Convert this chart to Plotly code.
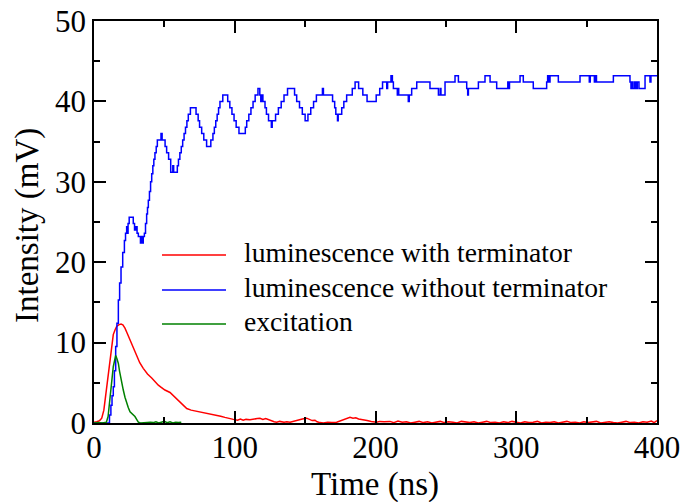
import plotly.graph_objects as go

# ---------------- data ----------------
red_t = [0, 2, 4, 5.5, 7, 9, 10.5, 11.5, 12.5, 13.7, 15, 16.1, 17.5, 19.2, 20.5, 22, 23.5, 25.6,
         28, 30.3, 32.5, 35, 38, 41, 44, 45.7, 48, 50.4, 54, 57, 60, 63, 65.9, 69, 72, 75.3, 78,
         81, 84, 87.2, 90, 93, 96, 99, 102, 104, 106, 108, 110.8, 113, 116, 117.9, 120, 122, 123.8,
         126, 128, 129.8, 132, 135, 137, 139.3, 142, 144, 146, 148, 151.1, 153, 155, 157, 158.5,
         160.6, 163, 166, 169, 172.4, 175, 177, 179, 181.9, 184, 186, 188, 191.3, 194, 197, 200.8,
         203, 206, 210.3, 213, 216, 219, 222, 225, 228, 231, 234, 237, 240, 243, 246, 249, 252,
         255, 258, 261, 264, 267, 270, 273, 276, 279, 282, 285, 288, 291, 294, 297, 300, 303, 306,
         309, 312, 315, 318, 321, 324, 327, 330, 333, 336, 339, 342, 345, 348, 351, 354, 357, 360,
         363, 366, 369, 372, 375, 378, 381, 384, 387, 390, 393, 396, 398, 400]
red_v = [0.1, 0.15, 0.3, 0.6, 1.6, 4.5, 6.8, 8.4, 9.6, 11.0, 11.6, 12.0, 12.2, 12.3, 12.2, 11.8, 11.2, 10.3,
         9.2, 8.2, 7.5, 6.8, 6.1, 5.6, 5.0, 4.7, 4.4, 4.1, 3.8, 3.3, 2.8, 2.3, 1.8, 1.6, 1.5, 1.4, 1.3,
         1.2, 1.05, 1.0, 0.85, 0.7, 0.55, 0.45, 0.35, 0.5, 0.35, 0.45, 0.4, 0.5, 0.55, 0.6, 0.45, 0.55, 0.4,
         0.3, 0.15, 0.1, 0.2, 0.1, 0.15, 0.1, 0.25, 0.3, 0.45, 0.5, 0.6, 0.45, 0.3, 0.35, 0.15,
         0.05, 0.0, 0.1, 0.05, 0.1, 0.25, 0.45, 0.55, 0.7, 0.6, 0.65, 0.5, 0.35, 0.3, 0.2, 0.1,
         0.2, 0.15, 0.2, 0.05, 0.25, 0.1, 0.15, 0.0, 0.1, 0.2, 0.05, 0.15, 0.0, 0.1, 0.2, 0.05, 0.15,
         0.1, 0.0, 0.2, 0.1, 0.05, 0.15, 0.0, 0.1, 0.2, 0.05, 0.1, 0.0, 0.15, 0.05, 0.2, 0.1, 0.0, 0.15,
         0.05, 0.1, 0.2, 0.0, 0.1, 0.05, 0.15, 0.0, 0.1, 0.2, 0.05, 0.1, 0.0, 0.15, 0.05, 0.1, 0.2, 0.0,
         0.1, 0.15, 0.05, 0.0, 0.1, 0.2, 0.05, 0.1, 0.0, 0.15, 0.1, 0.25, 0.05, 0.3, 0.1]

green_t = [0, 3, 6, 8.8, 10, 11.4, 12.5, 13.7, 14.6, 15.4, 16.3, 17.3, 18.2, 19.2, 20.8, 22, 23.2,
           24.4, 25.6, 27.3, 29.1, 30.5, 31.5, 33, 36, 38, 40, 42, 44, 46, 48, 50, 52, 54, 56, 58, 60, 62]
green_v = [0.0, 0.05, 0.0, 0.1, 0.8, 2.8, 5.0, 7.0, 8.0, 8.4, 8.0, 7.4, 6.4, 5.3, 4.1, 3.2, 2.4,
           1.9, 1.4, 1.1, 0.8, 0.4, 0.1, 0.0, 0.05, 0.0, 0.1, 0.05, 0.15, 0.0, 0.1, 0.2, 0.05, 0.15,
           0.0, 0.1, 0.05, 0.1]

blue_t = [0, 10.2, 11, 12, 12.8, 13.7, 14.5, 15.4, 16.3, 17.3, 18.2, 19.2, 20.4, 21.6, 22.4, 23.2,
          23.6, 24.2, 25.0, 27.9, 28.8, 29.6, 30.6, 31.5, 33.0, 33.6, 34.3, 35.0, 35.8, 36.6, 37.4,
          38.0, 38.6, 39.4, 40.2, 41.0, 41.8, 42.5, 43.3, 44.2, 45.0, 47.6, 48.4, 50.5, 51.6, 53.0,
          54.5, 56.0, 56.6, 59.2, 60.0, 61.0, 62.0, 63.0, 64.0, 65.0, 66.0, 67.0, 68.5, 72.5, 74.0,
          75.0, 76.5, 78.0, 80.0, 83.0, 84.5, 85.5, 86.5, 87.5, 88.5, 89.5, 91.5, 95.0, 96.5, 98.0,
          99.5, 101.0, 103.0, 107.5, 108.5, 110.0, 111.5, 113.0, 114.5, 116.5, 117.8, 118.5, 119.2,
          120.0, 121.5, 122.5, 124.0, 126.0, 126.6, 127.5, 129.0, 131.0, 133.0, 135.0, 137.5, 142.5,
          144.0, 146.0, 148.0, 150.0, 152.0, 154.0, 156.0, 158.0, 162.3, 163.0, 169.5, 171.0, 171.8,
          173.0, 173.5, 176.0, 177.5, 179.5, 183.5, 185.5, 188.0, 191.0, 194.0, 200.5, 203.0, 205.0,
          208.0, 208.6, 211.0, 212.0, 212.7, 215.5, 216.0, 216.5, 219.8, 223.3, 224.0, 225.7, 229.3,
          238.7, 244.7, 246.0, 246.5, 249.4, 256.5, 258.9, 264.8, 265.5, 266.0, 273.1, 277.8, 281.4,
          286.1, 294.0, 294.6, 295.2, 302.7, 305.0, 312.1, 321.6, 322.3, 323.0, 324.0, 329.9, 345.3,
          351.9, 352.6, 355.5, 356.4, 357.0, 369.0, 380.8, 381.5, 382.3, 383.0, 384.2, 385.0, 386.0,
          387.2, 391.5, 395.0, 395.7, 400.0]
blue_v = [0.0, 0.0, 1.0, 2.2, 3.4, 4.5, 6.5, 9.5, 12.4, 15.3, 17.4, 19.4, 21.2, 22.7, 23.6, 24.4,
          23.6, 24.8, 25.6, 24.8, 24.0, 24.4, 23.6, 23.2, 22.4, 23.2, 22.4, 23.2, 23.6, 24.8, 26.0,
          26.8, 27.7, 28.8, 30.0, 31.0, 32.0, 32.8, 33.6, 34.4, 35.2, 36.0, 35.2, 34.4, 33.6, 32.8,
          31.2, 32.0, 31.2, 32.0, 32.8, 33.6, 34.4, 35.2, 36.0, 36.8, 37.6, 38.4, 39.2, 38.4, 37.6,
          36.8, 36.0, 35.2, 34.4, 35.2, 36.0, 36.8, 37.6, 38.4, 39.2, 40.0, 40.8, 40.0, 39.2, 38.4,
          37.6, 36.8, 36.0, 36.8, 37.6, 38.4, 39.2, 40.0, 40.8, 41.6, 40.8, 40.0, 40.8,
          40.0, 39.2, 38.4, 37.6, 36.8, 37.6, 37.6, 38.4, 39.2, 40.0, 40.8, 41.6, 40.8,
          40.0, 39.2, 38.4, 37.6, 38.4, 39.2, 40.0, 40.8, 41.6, 40.8, 40.0, 39.2, 38.4,
          37.6, 38.4, 39.2, 40.0, 40.8, 41.6, 42.4, 41.6, 40.8, 40.0, 40.8, 41.6, 42.4,
          41.6, 42.4, 43.2, 42.4, 41.6, 40.8, 41.6, 40.8, 40.8, 40.0, 40.8, 41.6, 42.4,
          41.6, 40.8, 41.6, 40.8, 42.4, 43.2, 42.4, 41.6, 40.8, 41.6, 42.4, 43.2, 42.4,
          41.6, 42.4, 41.6, 42.4, 43.2, 42.4, 41.6, 42.4, 43.2, 42.4, 43.2, 42.4, 43.2,
          42.4, 43.2, 42.4, 43.2, 42.4, 43.2, 42.4, 41.6, 42.4, 41.6, 42.4, 41.6, 42.4,
          41.6, 43.2, 42.4, 43.2, 43.2]

x_ticks = [0, 100, 200, 300, 400]
y_ticks = [0, 10, 20, 30, 40, 50]

legend_names = ["luminescence with terminator", "luminescence without terminator", "excitation"]
colors = ["#ff0000", "#0000ff", "#008000"]

# ---------------- figure ----------------
fig = go.Figure()
fig.add_trace(go.Scatter(x=red_t, y=red_v, mode="lines", name=legend_names[0],
                         line=dict(color=colors[0], width=1.5), showlegend=False))
fig.add_trace(go.Scatter(x=blue_t, y=blue_v, mode="lines", name=legend_names[1],
                         line=dict(color=colors[1], width=1.5, shape="hv"), showlegend=False))
fig.add_trace(go.Scatter(x=green_t, y=green_v, mode="lines", name=legend_names[2],
                         line=dict(color=colors[2], width=1.5), showlegend=False))

# manual legend (long line samples, no frame)
L, R, T, B = 94, 657, 21, 423
W, H = R - L, B - T
def px(xp):
    return (xp - L) / W
def py(yp):
    return (B - yp) / H

rows_y = [255, 290, 324]
shapes = []
annotations = []
for name, col, yy in zip(legend_names, colors, rows_y):
    shapes.append(dict(type="line", xref="paper", yref="paper",
                       x0=px(162), x1=px(226), y0=py(yy), y1=py(yy),
                       line=dict(color=col, width=1.5)))
    annotations.append(dict(xref="paper", yref="paper", x=px(242), y=py(yy - 3),
                            text=name, showarrow=False, xanchor="left", yanchor="middle",
                            font=dict(family="Liberation Serif", size=27.6, color="black")))

# axis titles as annotations for exact placement
annotations.append(dict(xref="paper", yref="paper", x=px(375), y=py(484), text="Time (ns)",
                        showarrow=False, xanchor="center", yanchor="middle",
                        font=dict(family="Liberation Serif", size=33, color="black")))
annotations.append(dict(xref="paper", yref="paper", x=px(28), y=py(226), text="Intensity (mV)",
                        showarrow=False, xanchor="center", yanchor="middle", textangle=-90,
                        font=dict(family="Liberation Serif", size=33, color="black")))

axis_common = dict(showline=True, linecolor="black", linewidth=1.5, mirror="allticks",
                   ticks="inside", ticklen=12, tickwidth=1.5, tickcolor="black",
                   showgrid=False, zeroline=False, automargin=False,
                   tickfont=dict(family="Liberation Serif", size=31, color="black"))

fig.update_layout(
    width=695, height=502,
    margin=dict(l=L, r=695 - R, t=T, b=502 - B, autoexpand=False),
    paper_bgcolor="white", plot_bgcolor="white",
    shapes=shapes, annotations=annotations,
    xaxis=dict(range=[0, 400], tickvals=x_ticks, ticktext=[str(v) for v in x_ticks],
               ticklabelstandoff=-4,
               minor=dict(ticks="inside", ticklen=6, tickwidth=1.5, tickcolor="black", dtick=50, tick0=0),
               **axis_common),
    yaxis=dict(range=[0, 50], tickvals=y_ticks, ticktext=[str(v) for v in y_ticks],
               minor=dict(ticks="inside", ticklen=6, tickwidth=1.5, tickcolor="black", dtick=5, tick0=0),
               **axis_common),
)

fig.write_html("out.html", config={"displayModeBar": False},
               post_script="document.body.style.margin='0';")
